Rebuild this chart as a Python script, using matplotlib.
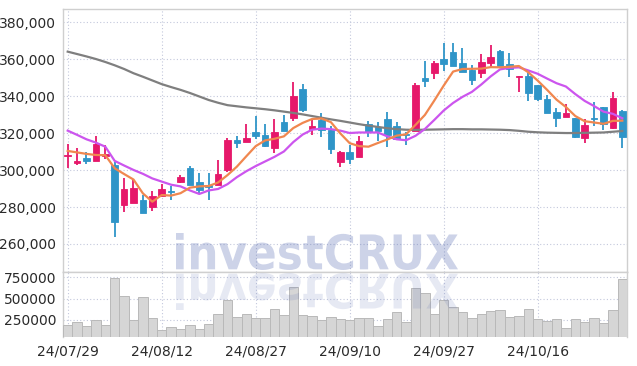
import matplotlib
matplotlib.use("Agg")
import matplotlib.pyplot as plt
import numpy as np
from matplotlib.textpath import TextPath
from matplotlib.patches import PathPatch
from matplotlib.font_manager import FontProperties
from matplotlib.transforms import Affine2D, IdentityTransform
from matplotlib.ticker import FuncFormatter

# daily candles, prices in KRW
opens = [307400, 303600, 306500, 305100, 307900, 302800, 281100, 282400, 283800, 279900,
         286000, 288900, 293400, 301000, 293400, 292000, 292000, 300100, 316300, 315400,
         320700, 319100, 311800, 326100, 328100, 344000, 322500, 327200, 321800, 304300,
         310000, 307000, 325000, 323600, 327700, 323900, 319600, 321200, 349800, 352500,
         360100, 363900, 357900, 354300, 352500, 357900, 364600, 357400, 350300, 351000,
         346100, 338600, 331400, 329000, 328100, 317300, 328400, 334000, 323000, 332200]
highs = [314200, 312000, 310000, 318300, 313500, 304300, 295700, 294700, 286500, 288900,
         292500, 291600, 297400, 302300, 298300, 298300, 305500, 317300, 318500, 324800,
         329300, 324800, 327500, 329900, 347900, 346700, 327500, 330800, 323900, 310600,
         313600, 318500, 326800, 325900, 331700, 325900, 320800, 347100, 359300, 359000,
         368700, 368700, 366000, 357000, 362900, 367800, 365100, 363600, 351000, 352800,
         346100, 340700, 333800, 335800, 328200, 327500, 337100, 334400, 342500, 332500]
lows = [301200, 302800, 303300, 305100, 306000, 263600, 277300, 282200, 276600, 278000,
        286000, 283800, 292900, 291900, 287500, 283800, 291900, 299200, 311800, 315200,
        316700, 312700, 309500, 321300, 326800, 331400, 319100, 318100, 308800, 301900,
        303300, 306900, 318100, 316000, 312400, 316100, 313600, 321200, 344900, 349400,
        353700, 356600, 353300, 346100, 349800, 355200, 356400, 350600, 342500, 337500,
        337200, 331100, 323600, 328600, 317300, 314500, 323900, 321800, 322500, 311800]
closes = [307900, 305000, 305200, 314000, 308500, 272100, 289800, 290200, 276600, 286000,
          290000, 288200, 296500, 292000, 289300, 291000, 297900, 316300, 314900, 317400,
          318700, 313300, 320500, 321400, 340200, 332600, 323900, 321800, 311300, 309800,
          306100, 315800, 320700, 321200, 319100, 316900, 319000, 346100, 348500, 358200,
          357400, 356600, 353300, 348900, 358800, 361200, 356400, 354600, 351000, 342000,
          338600, 331100, 328400, 330800, 317800, 324500, 327700, 324800, 338900, 318100]
volumes = [191000, 223000, 176000, 246000, 188000, 743000, 528000, 246000, 516000, 270000,
           129000, 164000, 141000, 188000, 141000, 200000, 317000, 481000, 282000, 317000,
           270000, 270000, 375000, 305000, 634000, 305000, 293000, 246000, 282000, 258000,
           248000, 270000, 270000, 176000, 258000, 340000, 223000, 622000, 563000, 317000,
           481000, 399000, 340000, 270000, 317000, 352000, 364000, 282000, 293000, 375000,
           258000, 235000, 258000, 152000, 258000, 223000, 270000, 211000, 364000, 731000]

# moving average lines as drawn on the chart
ma5 = [310400, 309600, 308800, 308200, 308100, 301000, 297900, 294900, 287400, 282900,
       286500, 286200, 287500, 290500, 291200, 291400, 293300, 297300, 301900, 307500,
       313000, 316100, 317000, 318300, 322800, 325600, 327700, 328000, 326000, 319900,
       314600, 313000, 312700, 314700, 316600, 318700, 319400, 324500, 329900, 337700,
       345800, 353400, 354800, 354900, 355000, 355800, 355700, 356000, 356400, 353000,
       348500, 343500, 338200, 334200, 329300, 326500, 325800, 325100, 326700, 326800]
ma10 = [321400, 319100, 316700, 314900, 312700, 305000, 302500, 300100, 298000, 295500,
        293800, 292100, 291200, 289000, 287100, 289000, 289800, 292400, 296200, 299400,
        302200, 304700, 307200, 310100, 315200, 319300, 321900, 322500, 322200, 321400,
        320100, 320400, 320400, 320400, 318300, 316700, 316200, 318600, 322300, 327200,
        332300, 336400, 339700, 342400, 346400, 350800, 354600, 355400, 355700, 354000,
        352200, 349600, 347100, 345300, 341200, 337500, 334700, 331700, 330500, 328100]
ma_long = [364200, 362900, 361600, 360200, 358600, 356800, 354800, 352500, 350600, 348600,
           346600, 345000, 343500, 341800, 339900, 338000, 336500, 335200, 334600, 334000,
           333500, 333000, 332400, 331700, 331000, 330200, 329300, 328400, 327500, 326700,
           325800, 324900, 324100, 323400, 322700, 322200, 321900, 321800, 321900, 322000,
           322100, 322200, 322200, 322100, 322100, 322000, 321900, 321700, 321300, 320800,
           320500, 320300, 320200, 320100, 320100, 320200, 320300, 320400, 320800, 321200]

tick_pos = [0, 10, 20, 30, 40, 50]
tick_labels = ["24/07/29", "24/08/12", "24/08/27", "24/09/10", "24/09/27", "24/10/16"]

UP = "#e6186a"
DOWN = "#2f95c8"
GRID = "#c3c8dc"
EDGE = "#cfcfcf"
FONT = ["Liberation Sans Narrow", "DejaVu Sans"]

fig = plt.figure(figsize=(6.37, 3.66), dpi=100)
ax = fig.add_axes([0.0989, 0.2568, 0.8854, 0.7186])
axv = fig.add_axes([0.0989, 0.0784, 0.8854, 0.1784], sharex=ax)

x = np.arange(len(closes))
o = np.array(opens)
c = np.array(closes)
up = c >= o
colors = np.where(up, UP, DOWN)
body_lo = np.minimum(o, c)
body_h = np.maximum(np.abs(c - o), 700)

ax.vlines(x, lows, highs, colors=colors, linewidth=1.3, zorder=3)
ax.bar(x, body_h, bottom=body_lo, width=0.7, color=colors, edgecolor=colors,
       linewidth=0.6, zorder=4)

ax.plot(x, ma_long, color="#7f7f7f", linewidth=1.6, zorder=5)
ax.plot(x, ma10, color="#cc55ee", linewidth=1.6, zorder=5)
ax.plot(x, ma5, color="#f0874f", linewidth=1.6, zorder=5)

ax.set_xlim(-0.5, 59.5)
ax.set_ylim(244800, 387300)
ax.set_yticks(range(260000, 380001, 20000))
ax.yaxis.set_major_formatter(FuncFormatter(lambda v, p: f"{int(v):,}"))

axv.bar(x, volumes, width=1.0, color="#d6d6d6", edgecolor="#b9b9b9", linewidth=0.7, zorder=3)
axv.set_ylim(47000, 812000)
axv.set_yticks([250000, 500000, 750000])
axv.yaxis.set_major_formatter(FuncFormatter(lambda v, p: f"{int(v)}"))
axv.set_xticks(tick_pos)
axv.set_xticklabels(tick_labels)

for a in (ax, axv):
    a.grid(True, color=GRID, linestyle=(0, (1, 2)), linewidth=0.8, zorder=0)
    a.set_axisbelow(True)
    a.tick_params(length=0, labelsize=10, labelcolor="#2a2a2a", pad=5)
    for lab in a.get_xticklabels() + a.get_yticklabels():
        lab.set_family(FONT)
    for s in a.spines.values():
        s.set_color(EDGE)
        s.set_linewidth(1.0)
plt.setp(ax.get_xticklabels(), visible=False)
axv.spines["bottom"].set_visible(False)

# watermark with reflection, placed in pixel coords
wm = TextPath((0, 0), "investCRUX", size=50, prop=FontProperties(family="DejaVu Sans", weight="bold"))
bb = wm.get_extents()
sx = 282 / bb.width
sy = 37 / bb.height
base = 366 - 270
t_main = Affine2D().translate(-bb.x0, -bb.y0).scale(sx, sy).translate(176, base)
t_refl = Affine2D().translate(-bb.x0, -bb.y0).scale(sx, -sy).translate(176, base - 3)
fig.add_artist(PathPatch(t_main.transform_path(wm), facecolor="#5a6eb4", edgecolor="none",
                         alpha=0.3, transform=IdentityTransform(), zorder=10))
fig.add_artist(PathPatch(t_refl.transform_path(wm), facecolor="#5a6eb4", edgecolor="none",
                         alpha=0.15, transform=IdentityTransform(), zorder=10))

fig.savefig("out.png", dpi=100)
